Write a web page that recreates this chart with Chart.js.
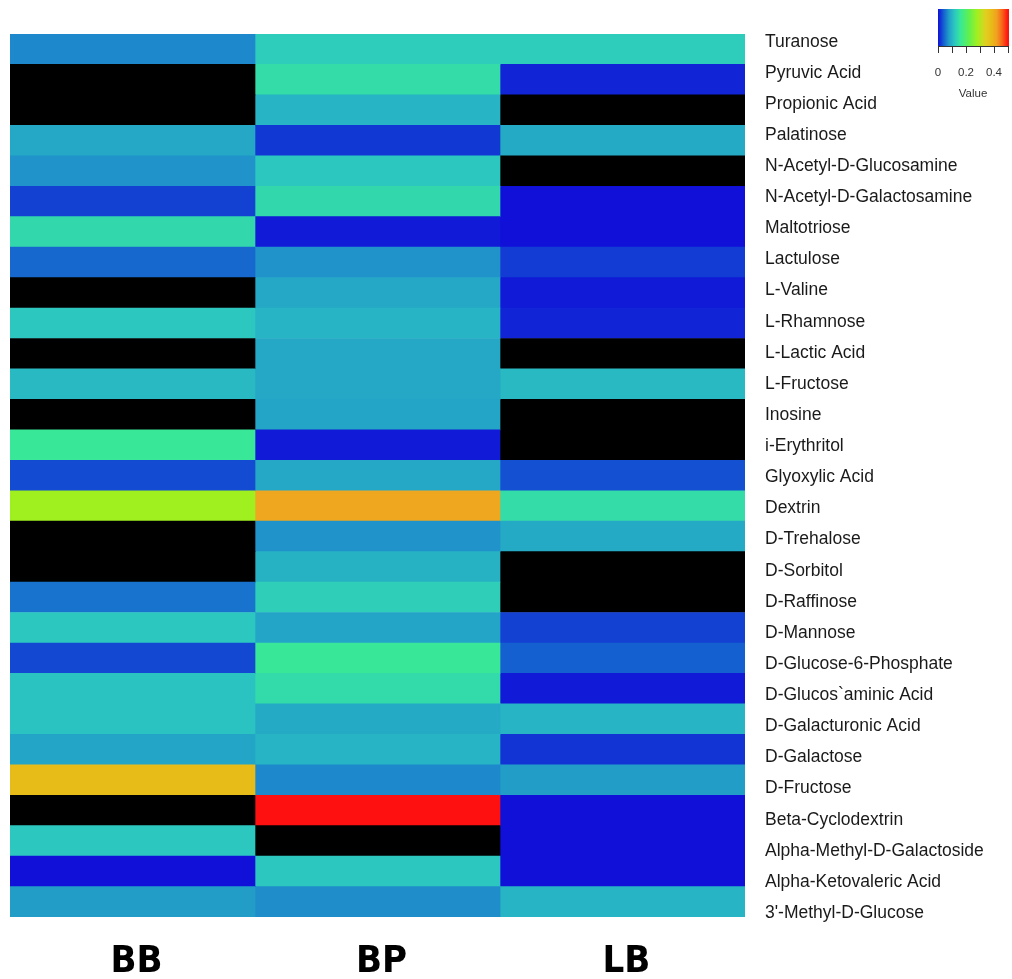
<!DOCTYPE html>
<html>
<head>
<meta charset="utf-8">
<script src="https://cdn.jsdelivr.net/npm/chart.js@4.4.1/dist/chart.umd.min.js"></script>
<style>
  html, body { margin: 0; padding: 0; background: #ffffff; }
  canvas { display: block; }
</style>
</head>
<body>
<canvas id="c" width="1012" height="979"></canvas>
<script>
// ---------- DATA ----------
const rowLabels = [
  "Turanose", "Pyruvic Acid", "Propionic Acid", "Palatinose",
  "N-Acetyl-D-Glucosamine", "N-Acetyl-D-Galactosamine", "Maltotriose",
  "Lactulose", "L-Valine", "L-Rhamnose", "L-Lactic Acid", "L-Fructose",
  "Inosine", "i-Erythritol", "Glyoxylic Acid", "Dextrin", "D-Trehalose",
  "D-Sorbitol", "D-Raffinose", "D-Mannose", "D-Glucose-6-Phosphate",
  "D-Glucos`aminic Acid", "D-Galacturonic Acid", "D-Galactose",
  "D-Fructose", "Beta-Cyclodextrin", "Alpha-Methyl-D-Galactoside",
  "Alpha-Ketovaleric Acid", "3'-Methyl-D-Glucose"
];
const columnLabels = ["BB", "BP", "LB"];

// null = missing value (drawn black)
const valuesBB = [0.065, null, null, 0.088, 0.072, 0.025, 0.140, 0.045, null, 0.120,
                  null, 0.105, null, 0.160, 0.030, 0.280, null, null, 0.052, 0.120,
                  0.028, 0.115, 0.115, 0.085, 0.380, null, 0.120, 0.000, 0.078];
const valuesBP = [0.125, 0.145, 0.100, 0.020, 0.120, 0.140, 0.005, 0.072, 0.088, 0.100,
                  0.088, 0.088, 0.085, 0.005, 0.088, 0.410, 0.072, 0.098, 0.128, 0.085,
                  0.160, 0.142, 0.090, 0.100, 0.065, 0.500, null, 0.120, 0.068];
const valuesLB = [0.125, 0.010, null, 0.090, null, 0.000, 0.000, 0.022, 0.005, 0.010,
                  null, 0.105, null, null, 0.032, 0.145, 0.090, null, null, 0.025,
                  0.040, 0.005, 0.100, 0.018, 0.078, 0.000, 0.000, 0.000, 0.100];

const colorbarTicks = [0, 0.2, 0.4];
const colorbarMinorTicks = [0, 0.1, 0.2, 0.3, 0.4, 0.5];
const colorbarRange = [0, 0.5];
const colorbarTitle = "Value";

// ---------- COLOUR MAP ----------
const stops = [
  [0.00, [16, 16, 216]],
  [0.04, [20, 96, 208]],
  [0.08, [34, 160, 200]],
  [0.12, [44, 200, 192]],
  [0.16, [56, 232, 152]],
  [0.22, [96, 240, 80]],
  [0.28, [160, 240, 32]],
  [0.34, [224, 208, 32]],
  [0.38, [232, 188, 24]],
  [0.42, [240, 160, 32]],
  [0.46, [248, 96, 24]],
  [0.50, [255, 16, 16]]
];
function colorFor(v) {
  if (v === null || v === undefined) return "#000000";
  if (v <= stops[0][0]) return rgb(stops[0][1]);
  for (let i = 1; i < stops.length; i++) {
    if (v <= stops[i][0]) {
      const t = (v - stops[i-1][0]) / (stops[i][0] - stops[i-1][0]);
      const a = stops[i-1][1], b = stops[i][1];
      return rgb([0,1,2].map(k => a[k] + (b[k] - a[k]) * t));
    }
  }
  return rgb(stops[stops.length-1][1]);
}
function rgb(c) { return "rgb(" + c.map(x => Math.round(x)).join(",") + ")"; }

const seriesValues = [valuesBB, valuesBP, valuesLB];

const datasets = columnLabels.map((name, ci) => ({
  label: name,
  data: rowLabels.map(() => [ci, ci + 1]),
  backgroundColor: seriesValues[ci].map(colorFor),
  borderWidth: 0,
  barPercentage: 1.0,
  categoryPercentage: 1.0,
  grouped: false,
  yAxisID: "y"
}));

// ---------- colour bar plugin ----------
const colorBarPlugin = {
  id: "colorBar",
  afterDraw(chart) {
    const ctx = chart.ctx;
    const x0 = 938, x1 = 1008, yTop = 9, yBot = 46;
    const w = x1 - x0;
    const grad = ctx.createLinearGradient(x0, 0, x1, 0);
    for (let i = 0; i <= 50; i++) {
      const v = colorbarRange[0] + (colorbarRange[1] - colorbarRange[0]) * i / 50;
      grad.addColorStop(i / 50, colorFor(v));
    }
    ctx.save();
    ctx.fillStyle = grad;
    ctx.fillRect(x0, yTop, w + 1, yBot - yTop);
    const px = v => x0 + (v - colorbarRange[0]) / (colorbarRange[1] - colorbarRange[0]) * w;
    ctx.strokeStyle = "#333";
    ctx.lineWidth = 1;
    ctx.beginPath();
    ctx.moveTo(px(0), yBot + 0.5);
    ctx.lineTo(px(0.5) + 1, yBot + 0.5);
    colorbarMinorTicks.forEach(v => {
      const x = Math.round(px(v)) + 0.5;
      ctx.moveTo(x, yBot);
      ctx.lineTo(x, yBot + 7);
    });
    ctx.stroke();
    ctx.fillStyle = "#333";
    ctx.font = "11.5px 'Liberation Sans', Arial, sans-serif";
    ctx.textAlign = "center";
    ctx.textBaseline = "middle";
    colorbarTicks.forEach(v => ctx.fillText(String(v), px(v), 73));
    ctx.fillText(colorbarTitle, 973, 94);
    ctx.restore();
  }
};

new Chart(document.getElementById("c"), {
  type: "bar",
  data: { labels: rowLabels, datasets },
  options: {
    indexAxis: "y",
    responsive: false,
    animation: false,
    devicePixelRatio: 1,
    layout: { padding: { left: 10, top: 34, right: 0, bottom: 0 } },
    plugins: { legend: { display: false }, tooltip: { enabled: false } },
    scales: {
      y: {
        type: "category",
        display: false
      },
      yLab: {
        type: "linear",
        position: "right",
        reverse: true,
        offset: false,
        min: -0.2474,
        max: 28.127,
        grid: { display: false, drawTicks: false, offset: false },
        border: { display: false },
        afterBuildTicks(scale) {
          scale.ticks = rowLabels.map((_, i) => ({ value: i }));
        },
        ticks: {
          padding: 20,
          color: "#1a1a1a",
          autoSkip: false,
          font: { family: "'Liberation Sans', Arial, sans-serif", size: 17.5 },
          callback(v) { return rowLabels[Math.round(v)]; }
        },
        afterFit(scale) { scale.width = 267; }
      },
      x: {
        type: "linear",
        min: 0,
        max: 3,
        offset: false,
        position: "bottom",
        grid: { display: false, drawTicks: false },
        border: { display: false },
        afterBuildTicks(scale) {
          scale.ticks = columnLabels.map((_, i) => ({ value: i + 0.5 }));
        },
        ticks: {
          padding: 22,
          labelOffset: 4,
          color: "#000",
          maxRotation: 0,
          autoSkip: false,
          font: { family: "'Liberation Sans Narrow', 'DejaVu Sans Condensed', 'Liberation Sans', sans-serif", size: 38, weight: "bold" },
          callback(v) { return columnLabels[Math.floor(v)]; }
        },
        afterFit(scale) { scale.height = 62; }
      }
    }
  },
  plugins: [colorBarPlugin]
});
</script>
</body>
</html>
